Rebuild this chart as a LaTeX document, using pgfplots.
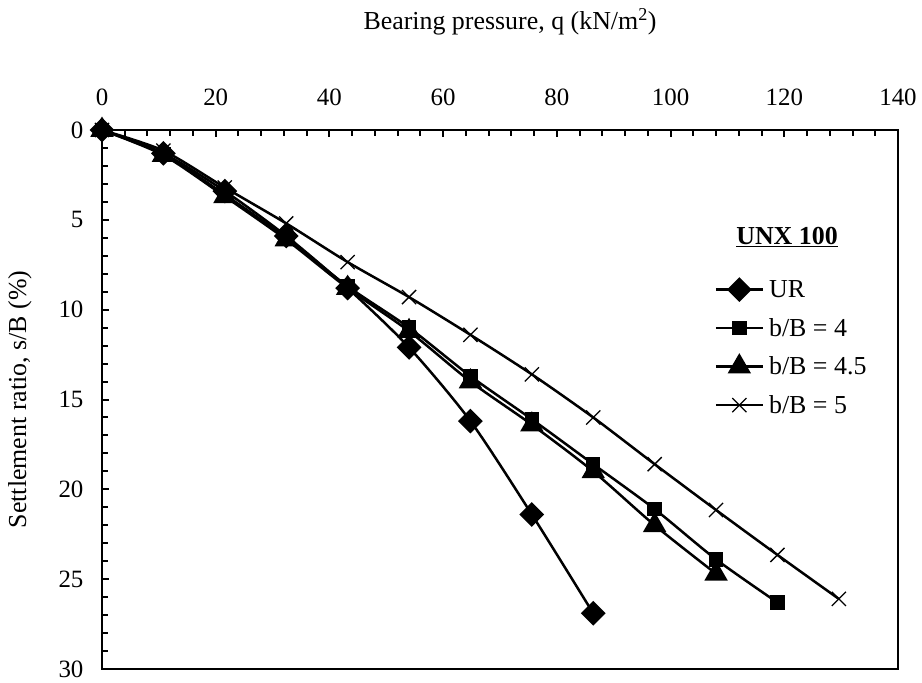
\documentclass[border=0pt]{standalone}
\usepackage{pgfplots}
\pgfplotsset{compat=1.18}
\usepackage{fontspec}
\setmainfont{Liberation Serif}
\begin{document}
\begin{tikzpicture}
\useasboundingbox (-102bp,-14bp) rectangle (820bp,669bp);
\begin{axis}[
  at={(0,0)}, anchor=south west,
  scale only axis, width=796bp, height=539bp,
  line width=2.5bp,
  xmin=0, xmax=140, ymin=0, ymax=30, y dir=reverse,
  xtick={0,20,...,140}, ytick={0,5,...,30},
  minor x tick num=4, minor y tick num=4,
  xtick pos=right, xticklabel pos=right, ytick pos=left,
  tick align=inside,
  major tick length=7bp, minor tick length=6bp,
  tick style={line width=2bp, black},
  /pgf/number format/assume math mode=true,
  tick label style={font=\fontsize{25}{29}\selectfont},
  xticklabel shift=20bp, yticklabel shift=14bp,
  xlabel={Bearing pressure, q (kN/m\textsuperscript{2})},
  ylabel={Settlement ratio, s/B (\%)},
  every axis x label/.style={at={(axis description cs:0.5,1)}, anchor=center, yshift=108bp, xshift=10bp, font=\fontsize{26}{30}\selectfont},
  every axis y label/.style={at={(axis description cs:-0.103,0.5)}, anchor=center, rotate=90, font=\fontsize{26}{30}\selectfont},
  clip=false,
  every axis plot/.append style={line width=2.5bp, black, smooth, tension=0.45},
  legend style={draw=none, fill=none, at={(axis description cs:0.768,0.726)}, anchor=north west,
    font=\fontsize{26}{30}\selectfont, row sep=17bp, inner sep=0pt, line width=2.5bp,
    nodes={inner sep=1bp}},
  legend cell align=left,
  legend image code/.code={\draw[mark repeat=2,mark phase=2,#1] plot coordinates {(0bp,0bp)(23.5bp,0bp)(47bp,0bp)};},
  /tikz/every odd column/.append style={column sep=4bp},
]
\addplot[mark=square*, mark options={rotate=45, solid}, mark size=7.5bp] coordinates {
(0,0)(10.8,1.3)(21.6,3.4)(32.4,5.9)(43.2,8.8)(54,12.1)(64.8,16.2)(75.6,21.4)(86.4,26.9)};
\addlegendentry{UR}
\addplot[mark=square*, mark options={solid}, mark size=6bp] coordinates {
(0,0)(10.8,1.35)(21.6,3.6)(32.4,6.0)(43.2,8.7)(54,11.0)(64.8,13.7)(75.6,16.1)(86.4,18.6)(97.2,21.1)(108,23.9)(118.8,26.3)};
\addlegendentry{b/B = 4}
\addplot[mark=triangle*, mark options={solid}, mark size=11bp] coordinates {
(0,0)(10.8,1.4)(21.6,3.7)(32.4,6.1)(43.2,8.8)(54,11.2)(64.8,14.0)(75.6,16.4)(86.4,19.0)(97.2,22.0)(108,24.7)};
\addlegendentry{b/B = 4.5}
\addplot[mark=x, mark options={solid, line width=1.3bp}, mark size=10bp] coordinates {
(0,0)(10.8,1.15)(21.6,3.2)(32.4,5.2)(43.2,7.35)(54,9.3)(64.8,11.4)(75.6,13.6)(86.4,16.0)(97.2,18.6)(108,21.15)(118.8,23.65)(129.6,26.1)};
\addlegendentry{b/B = 5}
\node[font=\fontsize{26}{30}\selectfont\bfseries] at (axis description cs:0.8606,0.8015) {\underline{UNX 100}};
\end{axis}
\end{tikzpicture}
\end{document}
